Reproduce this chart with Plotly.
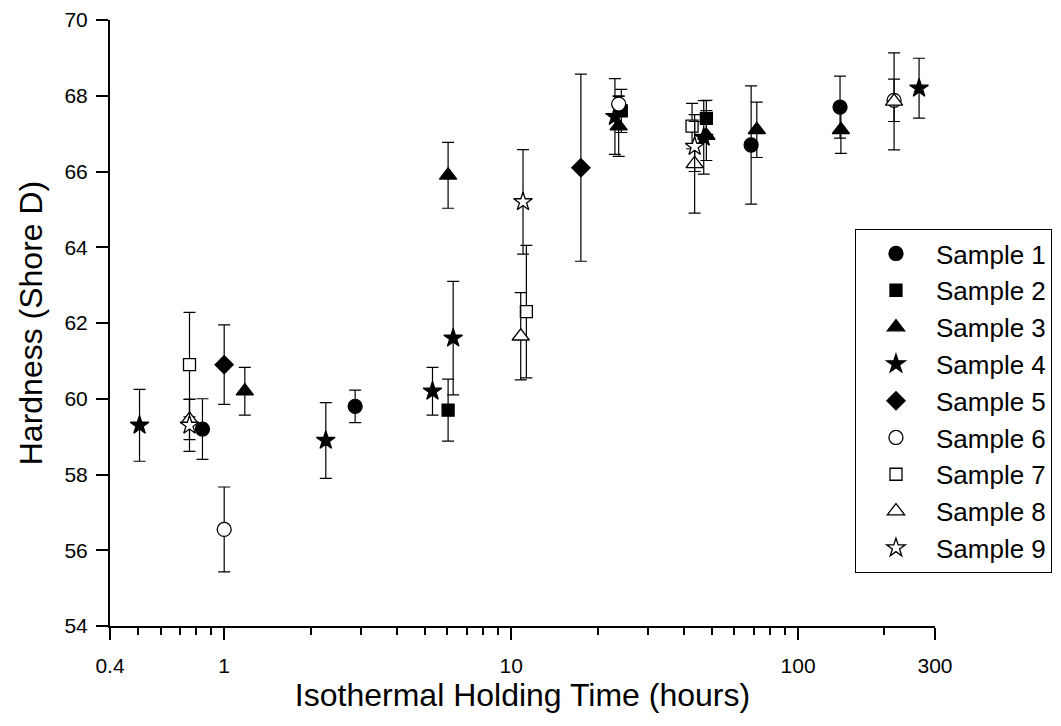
import plotly.graph_objects as go

# ---- data ----
s1_x = [0.84, 2.86, 68.6, 140]
s1_y = [59.2, 59.8, 66.7, 67.7]
s1_e = [0.8, 0.43, 1.56, 0.82]

s2_x = [6.03, 24.2, 47.9]
s2_y = [59.7, 67.6, 67.4]
s2_e = [0.82, 0.57, 0.48]

s3_x = [1.18, 6.03, 23.7, 47.9, 71.8, 141]
s3_y = [60.2, 65.9, 67.2, 66.95, 67.1, 67.1]
s3_e = [0.63, 0.87, 0.8, 0.66, 0.73, 0.62]

s4_x = [0.507, 2.26, 5.32, 6.28, 23.0, 46.9, 264]
s4_y = [59.3, 58.9, 60.2, 61.6, 67.45, 66.9, 68.2]
s4_e = [0.95, 1.0, 0.63, 1.5, 1.0, 0.97, 0.79]

s5_x = [1.0, 17.5]
s5_y = [60.9, 66.1]
s5_e = [1.05, 2.47]

s6_x = [1.0, 23.7, 216]
s6_y = [56.55, 67.78, 67.88]
s6_e = [1.12, 0.2, 0.56]

s7_x = [0.757, 11.3, 42.7]
s7_y = [60.9, 62.3, 67.2]
s7_e = [1.38, 1.75, 0.6]

s8_x = [0.757, 10.8, 43.6, 216]
s8_y = [59.45, 61.65, 66.2, 67.85]
s8_e = [0.53, 1.15, 1.3, 1.28]

s9_x = [0.757, 11.0, 43.6]
s9_y = [59.3, 65.2, 66.66]
s9_e = [0.69, 1.38, 0.66]

names = ["Sample 1", "Sample 2", "Sample 3", "Sample 4", "Sample 5",
         "Sample 6", "Sample 7", "Sample 8", "Sample 9"]
xs = [s1_x, s2_x, s3_x, s4_x, s5_x, s6_x, s7_x, s8_x, s9_x]
ys = [s1_y, s2_y, s3_y, s4_y, s5_y, s6_y, s7_y, s8_y, s9_y]
es = [s1_e, s2_e, s3_e, s4_e, s5_e, s6_e, s7_e, s8_e, s9_e]

x_tickvals = [0.4, 1, 10, 100, 300]
x_ticktext = ["0.4", "1", "10", "100", "300"]
x_minor = [0.5, 0.6, 0.7, 0.8, 0.9, 2, 3, 4, 5, 6, 7, 8, 9,
           20, 30, 40, 50, 60, 70, 80, 90, 200]

# ---- styles ----
symbols = ["circle", "square", "triangle-up", "star", "diamond",
           "circle", "square", "triangle-up", "star"]
fills = ["black"] * 5 + ["white"] * 4
sizes = [14, 12, 15, 14, 14, 14, 12, 15, 14]

FONT = "Arial, Liberation Sans, sans-serif"

fig = go.Figure()
for n, x, y, e, sym, fc, sz in zip(names, xs, ys, es, symbols, fills, sizes):
    fig.add_trace(go.Scatter(
        x=x, y=y, name=n, mode="markers",
        marker=dict(symbol=sym, color=fc, size=sz,
                    line=dict(color="black", width=1.3)),
        error_y=dict(type="data", array=e, visible=True,
                     color="black", thickness=1.2, width=6),
    ))

fig.update_layout(
    width=1061, height=726,
    margin=dict(l=102, r=134, t=12, b=108, autoexpand=False),
    paper_bgcolor="white", plot_bgcolor="white",
    font=dict(family=FONT, color="black", size=20),
    showlegend=True,
    legend=dict(
        x=0.903, y=0.655, xanchor="left", yanchor="top",
        bgcolor="white", bordercolor="black", borderwidth=1,
        font=dict(family=FONT, size=26, color="black"),
        itemwidth=70, tracegroupgap=0,
    ),
)

fig.update_xaxes(
    type="log", range=[-0.39794, 2.4771],
    tickmode="array", tickvals=x_tickvals, ticktext=x_ticktext,
    ticks="outside", ticklen=12, tickwidth=2, tickcolor="black",
    ticklabelstandoff=8, ticklabeloverflow="allow",
    showline=True, linecolor="black", linewidth=2,
    showgrid=False, zeroline=False,
    tickfont=dict(size=21, family=FONT),
    minor=dict(tickmode="array", tickvals=x_minor, ticks="outside",
               ticklen=7, tickwidth=1.5, tickcolor="black", showgrid=False),
    title=dict(text="Isothermal Holding Time (hours)",
               font=dict(size=32, family=FONT), standoff=4),
)
fig.update_yaxes(
    range=[54, 70], tickmode="linear", tick0=54, dtick=2,
    ticks="outside", ticklen=12, tickwidth=2, tickcolor="black",
    ticklabelstandoff=4, ticklabeloverflow="allow",
    showline=True, linecolor="black", linewidth=2,
    showgrid=False, zeroline=False,
    tickfont=dict(size=21, family=FONT),
    title=dict(text="Hardness (Shore D)",
               font=dict(size=32, family=FONT), standoff=12),
)

fig.write_html("out.html")
